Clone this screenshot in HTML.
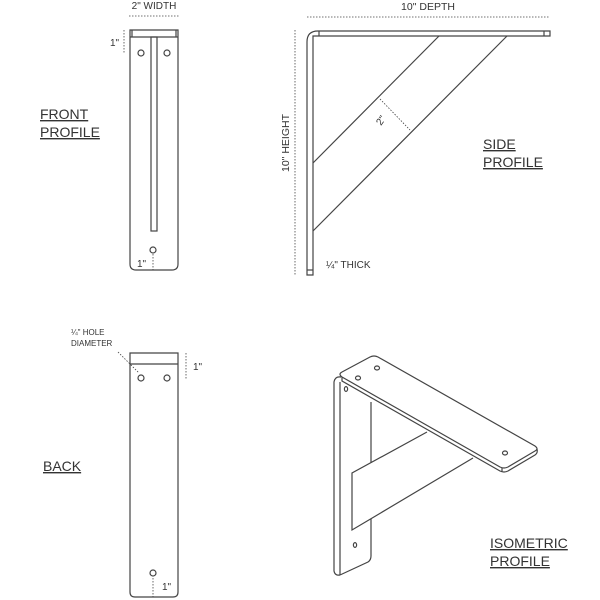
<!DOCTYPE html>
<html><head><style>body{margin:0;background:#fff}svg{display:block}text{font-family:"Liberation Sans",sans-serif;fill:#333}</style></head><body>
<svg width="600" height="600" viewBox="0 0 600 600" stroke="#444" fill="none" stroke-width="1.2">
<!-- FRONT -->
<text x="154" y="9" font-size="10" text-anchor="middle" stroke="none">2" WIDTH</text>
<line x1="129" y1="16" x2="179" y2="16" stroke-dasharray="1.5,1.5" stroke-width="0.8"/>
<path d="M130 30 H178 V264 Q178 270 172 270 H136 Q130 270 130 264 Z"/>
<line x1="130" y1="37" x2="178" y2="37"/>
<line x1="132" y1="30" x2="132" y2="37"/><line x1="176" y1="30" x2="176" y2="37"/>
<rect x="151" y="37" width="6" height="194"/>
<circle cx="141" cy="53" r="3"/><circle cx="167" cy="53" r="3"/><circle cx="153" cy="250" r="3"/>
<line x1="124" y1="30" x2="124" y2="54" stroke-dasharray="1.5,1.5" stroke-width="0.8"/>
<text x="110" y="46" font-size="10" stroke="none">1"</text>
<line x1="153" y1="254" x2="153" y2="270" stroke-dasharray="1.5,1.5" stroke-width="0.8"/>
<text x="137" y="267" font-size="10" stroke="none">1"</text>
<text x="40" y="119" font-size="14" stroke="none" text-decoration="underline">FRONT</text>
<text x="40" y="137" font-size="14" stroke="none" text-decoration="underline">PROFILE</text>
<!-- SIDE -->
<text x="428" y="10" font-size="10.5" text-anchor="middle" stroke="none">10" DEPTH</text>
<line x1="307" y1="17" x2="550" y2="17" stroke-dasharray="1.5,1.5" stroke-width="0.8"/>
<path d="M307 275 V42 Q307 31 318 31 H550 V36 H313 V275 Z"/>
<line x1="319" y1="31" x2="319" y2="36"/>
<line x1="544" y1="31" x2="544" y2="36"/>
<line x1="307" y1="270" x2="313" y2="270"/>
<line x1="439" y1="36" x2="313" y2="163"/>
<line x1="507" y1="36" x2="313" y2="231"/>
<line x1="380" y1="99" x2="410" y2="130" stroke-dasharray="1.5,1.5" stroke-width="0.8"/>
<text x="0" y="0" font-size="10" stroke="none" transform="translate(381,126) rotate(-55)">2"</text>
<line x1="295" y1="30" x2="295" y2="275" stroke-dasharray="1.5,1.5" stroke-width="0.8"/>
<text x="0" y="0" font-size="10.5" text-anchor="middle" stroke="none" transform="translate(289,143) rotate(-90)">10" HEIGHT</text>
<text x="326" y="268" font-size="10" stroke="none">¼" THICK</text>
<text x="483" y="149" font-size="14" stroke="none" text-decoration="underline">SIDE</text>
<text x="483" y="167" font-size="14" stroke="none" text-decoration="underline">PROFILE</text>
<!-- BACK -->
<text x="71" y="335" font-size="8" stroke="none">¼" HOLE</text>
<text x="71" y="346" font-size="8" stroke="none">DIAMETER</text>
<line x1="118" y1="352" x2="139" y2="373" stroke-dasharray="1.5,1.5" stroke-width="0.8"/>
<path d="M130 353 H178 V592 Q178 597 173 597 H135 Q130 597 130 592 Z"/>
<line x1="130" y1="364" x2="178" y2="364"/>
<circle cx="141" cy="378" r="3"/><circle cx="167" cy="378" r="3"/><circle cx="153" cy="573" r="3"/>
<line x1="186" y1="353" x2="186" y2="380" stroke-dasharray="1.5,1.5" stroke-width="0.8"/>
<text x="193" y="370" font-size="10" stroke="none">1"</text>
<line x1="153" y1="578" x2="153" y2="597" stroke-dasharray="1.5,1.5" stroke-width="0.8"/>
<text x="162" y="590" font-size="10" stroke="none">1"</text>
<text x="43" y="471" font-size="14" stroke="none" text-decoration="underline">BACK</text>
<!-- ISO -->
<!-- vertical plate -->
<path d="M341 377 Q335 376 334 382 V571 Q335 576 340 575"/>
<line x1="340" y1="382" x2="340" y2="575"/>
<path d="M340 575 L368 562 Q371 560 371 556 V519"/>
<line x1="371" y1="402" x2="371" y2="463"/>
<!-- web -->
<path d="M427 432 L352 473 V530 L473 458"/>
<!-- top plate -->
<path d="M342 377 Q338 374 342 372 L370 357 Q374 355 378 357 L535 446 Q539 449 535 451 L508 467 Q504 469 500 467 Z"/>
<path d="M342 377 V381 L500 471 Q504 473 508 471 L535 455 Q538 453 537 449"/>
<line x1="502" y1="468" x2="502" y2="472"/>
<ellipse cx="358" cy="378" rx="2.5" ry="2"/><ellipse cx="377" cy="368" rx="2.5" ry="2"/><ellipse cx="505" cy="453" rx="2.5" ry="2"/>
<ellipse cx="346" cy="389" rx="1.6" ry="2.4"/><ellipse cx="355" cy="545" rx="1.6" ry="2.4"/>
<text x="490" y="548" font-size="14" stroke="none" text-decoration="underline">ISOMETRIC</text>
<text x="490" y="566" font-size="14" stroke="none" text-decoration="underline">PROFILE</text>
</svg>
</body></html>
